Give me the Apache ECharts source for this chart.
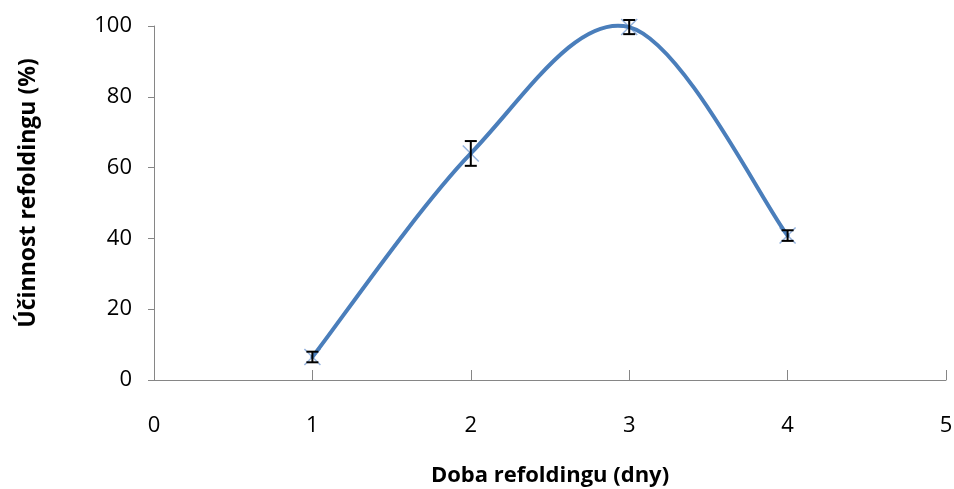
<!DOCTYPE html>
<html>
<head>
<meta charset="utf-8">
<script src="https://cdn.jsdelivr.net/npm/echarts@6/dist/echarts.min.js"></script>
<style>
  html, body { margin: 0; padding: 0; background: #fff; }
  #chart { width: 954px; height: 489px; }
</style>
</head>
<body>
<div id="chart"></div>
<script>
// data
const days = [1, 2, 3, 4];
const efficiency = [6.5, 64, 99.7, 40.8];
const errors = [1.5, 3.5, 2, 1.5];
const yTicks = [0, 20, 40, 60, 80, 100];

const points = days.map((d, i) => [d, efficiency[i]]);
const errData = days.map((d, i) => [d, efficiency[i], errors[i]]);

const chart = echarts.init(document.getElementById('chart'));

const font = 'Open Sans, Noto Sans, sans-serif';

// excel-like smoothed segment from point i to i+1 (catmull-rom, tension 1/6)
function smoothSegment(params, api) {
  const i = params.dataIndex;
  const n = points.length;
  if (i >= n - 1) return null;
  const c = k => api.coord(points[Math.max(0, Math.min(n - 1, k))]);
  const p0 = c(i - 1), p1 = c(i), p2 = c(i + 1), p3 = c(i + 2);
  return {
    type: 'bezierCurve',
    shape: {
      x1: p1[0], y1: p1[1],
      x2: p2[0], y2: p2[1],
      cpx1: p1[0] + (p2[0] - p0[0]) / 6, cpy1: p1[1] + (p2[1] - p0[1]) / 6,
      cpx2: p2[0] - (p3[0] - p1[0]) / 6, cpy2: p2[1] - (p3[1] - p1[1]) / 6
    },
    style: { stroke: '#4a7ebb', lineWidth: 4, fill: null, lineCap: 'round' }
  };
}

chart.setOption({
  animation: false,
  grid: { left: 154, right: 8, top: 26, bottom: 109, outerBoundsMode: 'none', containLabel: false },
  xAxis: {
    type: 'value',
    min: 0, max: 5, interval: 1,
    name: 'Doba refoldingu (dny)',
    nameLocation: 'middle',
    nameGap: 85,
    nameTextStyle: { fontFamily: font, fontSize: 22, fontWeight: 'bold', color: '#000' },
    axisLine: { lineStyle: { color: '#868686', width: 1 } },
    axisTick: { inside: true, length: 10, lineStyle: { color: '#868686' } },
    axisLabel: { margin: 35, fontFamily: font, fontSize: 22, color: '#000' },
    splitLine: { show: false }
  },
  yAxis: {
    type: 'value',
    min: 0, max: 100, interval: 20,
    name: 'Účinnost refoldingu (%)',
    nameLocation: 'middle',
    nameGap: 114,
    nameTextStyle: {
      fontFamily: font, fontSize: 23, fontWeight: 'bold', color: '#000',
      padding: [0, 0, 0, 20]
    },
    axisLine: { show: true, lineStyle: { color: '#868686', width: 1 } },
    axisTick: { show: true, length: 6, lineStyle: { color: '#868686' } },
    axisLabel: {
      margin: 22, fontFamily: font, fontSize: 22, color: '#000',
      formatter: v => yTicks.includes(v) ? String(v) : ''
    },
    splitLine: { show: false }
  },
  series: [
    {
      // x markers
      type: 'custom',
      data: points,
      z: 1,
      renderItem: (params, api) => {
        const p = api.coord([api.value(0), api.value(1)]);
        const s = 8;
        const style = { stroke: '#95b3de', lineWidth: 1.5 };
        return {
          type: 'group',
          children: [
            { type: 'line', shape: { x1: p[0] - s, y1: p[1] - s, x2: p[0] + s, y2: p[1] + s }, style },
            { type: 'line', shape: { x1: p[0] - s, y1: p[1] + s, x2: p[0] + s, y2: p[1] - s }, style }
          ]
        };
      }
    },
    {
      // smoothed line
      type: 'custom',
      data: points,
      z: 2,
      renderItem: smoothSegment
    },
    {
      // error bars
      type: 'custom',
      data: errData,
      z: 3,
      renderItem: (params, api) => {
        const x = api.value(0), y = api.value(1), e = api.value(2);
        const hi = api.coord([x, y + e]);
        const lo = api.coord([x, y - e]);
        const w = 6;
        const style = { stroke: '#000', lineWidth: 2 };
        return {
          type: 'group',
          children: [
            { type: 'line', shape: { x1: hi[0], y1: hi[1], x2: lo[0], y2: lo[1] }, style },
            { type: 'line', shape: { x1: hi[0] - w, y1: hi[1], x2: hi[0] + w, y2: hi[1] }, style },
            { type: 'line', shape: { x1: lo[0] - w, y1: lo[1], x2: lo[0] + w, y2: lo[1] }, style }
          ]
        };
      }
    }
  ]
});
</script>
</body>
</html>
